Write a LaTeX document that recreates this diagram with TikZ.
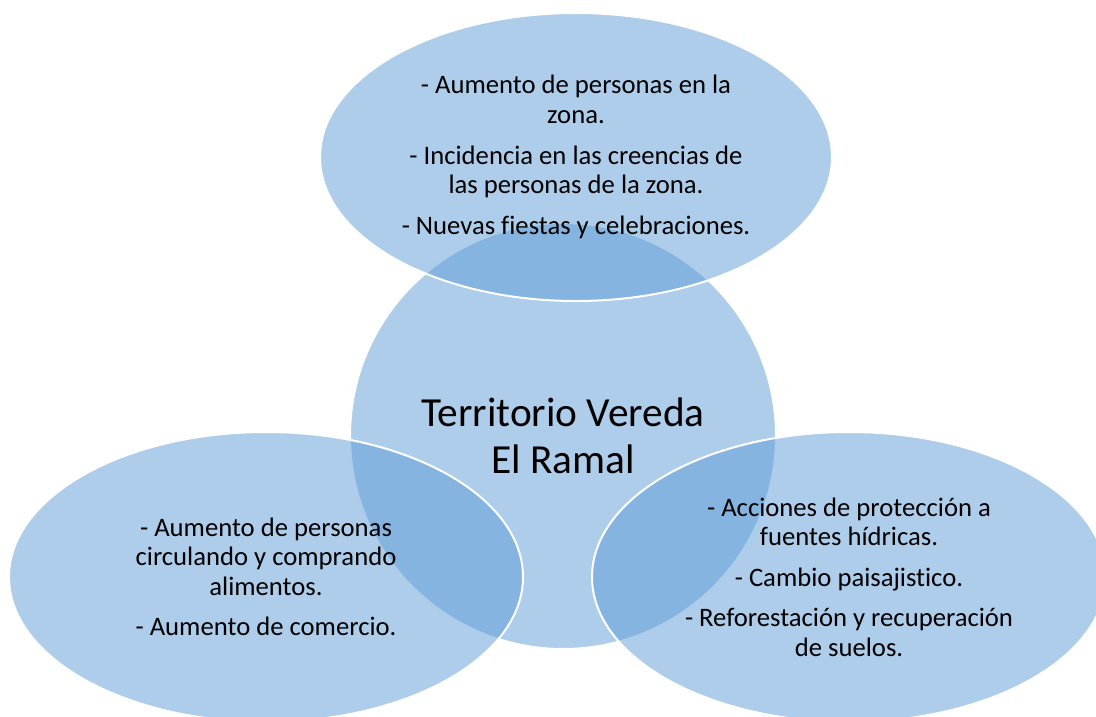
\documentclass[tikz,border=0pt]{standalone}
\usepackage{fontspec}
\setmainfont[Ligatures=NoCommon]{Carlito}
\usetikzlibrary{shapes.geometric}
\definecolor{vennblue}{HTML}{5B9BD5}

\begin{document}
\begin{tikzpicture}[x=0.75pt,y=-0.75pt]
    \pgfmathsetmacro{\gap}{8.6}
    \tikzset{
        venn/.style={ellipse, fill=vennblue, fill opacity=0.5, text opacity=1,
            draw=white, line width=1.5pt, inner sep=0pt, align=center,
            minimum width=385.5pt, minimum height=217.5pt,
            font=\fontsize{20}{22}\selectfont},
        hub/.style={venn, minimum width=319.5pt, minimum height=319.5pt,
            font=\fontsize{31}{35}\selectfont}
    }
    \useasboundingbox (0,0) rectangle (1096,717);
    \clip (0,0) rectangle (1096,717);
    % centre circle first, the three ellipses lie over it
    \node[hub] (territorio) at (563,436) {Territorio Vereda\\El Ramal};
    \node[venn, minimum width=384pt, minimum height=216pt] (social) at (576,157)
        {- Aumento de personas en la\\zona.\\[\gap pt]
         - Incidencia en las creencias de\\las personas de la zona.\\[\gap pt]
         - Nuevas fiestas y celebraciones.};
    \node[venn] (economico) at (266,577)
        {- Aumento de personas\\circulando y comprando\\alimentos.\\[\gap pt]
         - Aumento de comercio.};
    \node[venn] (ambiental) at (849,577)
        {- Acciones de protección a\\fuentes hídricas.\\[\gap pt]
         - Cambio paisajistico.\\[\gap pt]
         - Reforestación y recuperación\\de suelos.};
\end{tikzpicture}
\end{document}
